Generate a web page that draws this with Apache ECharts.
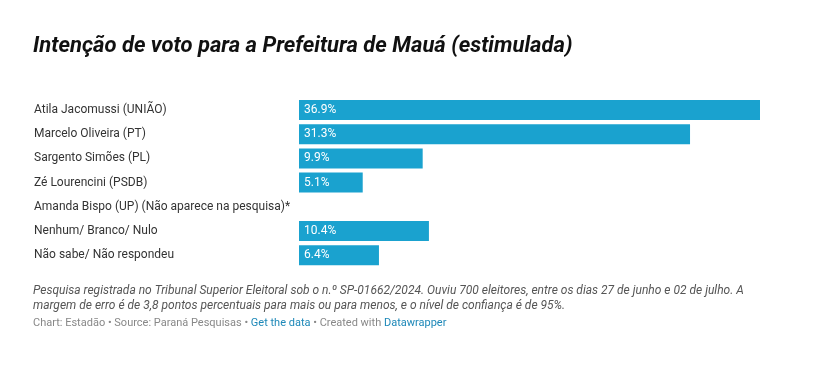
<!DOCTYPE html>
<html><head><meta charset="utf-8">
<script src="https://cdn.jsdelivr.net/npm/echarts@6/dist/echarts.min.js"></script>
<style>html,body{margin:0;padding:0;background:#fff}#c{width:814px;height:368px}</style>
</head><body><div id="c"></div>
<script>
const categories = ["Atila Jacomussi (UNIÃO)","Marcelo Oliveira (PT)","Sargento Simões (PL)","Zé Lourencini (PSDB)","Amanda Bispo (UP) (Não aparece na pesquisa)*","Nenhum/ Branco/ Nulo","Não sabe/ Não respondeu"];
const values = [36.9, 31.3, 9.9, 5.1, null, 10.4, 6.4];
const titleText = "Intenção de voto para a Prefeitura de Mauá (estimulada)";
const noteLines = ["Pesquisa registrada no Tribunal Superior Eleitoral sob o n.º SP-01662/2024. Ouviu 700 eleitores, entre os dias 27 de junho e 02 de julho. A","margem de erro é de 3,8 pontos percentuais para mais ou para menos, e o nível de confiança é de 95%."];

const chart = echarts.init(document.getElementById('c'));
chart.setOption({
  animation:false,
  textStyle:{fontFamily:'Roboto'},
  grid:{left:299, top:97.9, width:461, height:169.4, containLabel:false},
  xAxis:{type:'value', min:0, max:36.9, show:false},
  yAxis:{type:'category', data:categories, inverse:true,
    axisLine:{show:false}, axisTick:{show:false}, splitLine:{show:false},
    axisLabel:{align:'left', margin:265, color:'#333', fontSize:12, fontFamily:'Roboto'}},
  series:[{type:'bar', data:values, barWidth:20, itemStyle:{color:'#1aa2cf'},
    label:{show:true, position:'insideLeft', distance:5, color:'#fff', fontSize:12, fontFamily:'Roboto', fontWeight:'normal',
      formatter:p=>p.value==null?'':p.value.toFixed(1)+'%'}}],
  graphic:[
    {type:'text', left:33, top:35, style:{text:titleText, font:'italic bold 22px Roboto', fill:'#111'}},
    {type:'text', left:33, top:283, style:{text:noteLines.join('\n'), font:'italic 12px Roboto', fill:'#555', lineHeight:15}},
    {type:'text', left:33, top:318, style:{
      text:'{g|Chart: Estadão • Source: Paraná Pesquisas • }{b|Get the data}{g| • Created with }{b|Datawrapper}',
      rich:{g:{fill:'#888', fontSize:11, fontFamily:'Roboto'}, b:{fill:'#1d88b8', fontSize:11, fontFamily:'Roboto'}}}}
  ]
});
</script></body></html>
